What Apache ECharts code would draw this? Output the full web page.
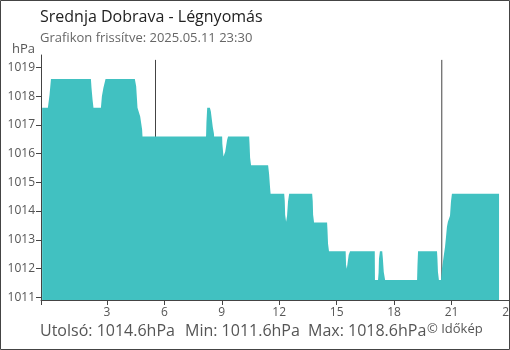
<!DOCTYPE html>
<html><head><meta charset="utf-8">
<script src="https://cdn.jsdelivr.net/npm/echarts@6/dist/echarts.min.js"></script>
<style>html,body{margin:0;padding:0;background:#fff}#c{width:510px;height:350px}</style>
</head><body><div id="c"></div>
<script>
// Hours of day (x) and pressure values (hPa)
var hours = [-0.38,-0.08,0.005,0.08,2.166,2.197,2.25,2.30,2.69,2.74,2.82,2.93,4.46,4.53,4.60,4.74,4.84,4.86,
  8.18,8.20,8.24,8.38,8.43,8.48,8.53,8.59,8.60,9.02,9.03,9.09,9.12,9.18,9.23,9.28,9.33,
  10.43,10.45,10.48,10.53,11.42,11.47,11.52,11.55,12.26,12.29,12.31,12.36,12.41,12.46,12.52,
  13.72,13.75,13.77,13.82,14.50,14.52,14.55,14.60,15.47,15.49,15.53,15.58,15.63,15.70,
  16.99,17.00,17.16,17.19,17.21,17.26,17.38,17.41,17.46,17.53,19.20,19.22,19.25,
  20.24,20.26,20.29,20.34,20.45,20.50,20.55,20.60,20.66,20.71,20.76,20.81,20.92,20.97,21.02,23.48];
var pressure = [1017.6,1017.6,1018.05,1018.6,1018.6,1018.3,1017.9,1017.6,1017.6,1018.0,1018.3,1018.6,1018.6,1018.35,1017.6,1017.3,1016.84,1016.6,
  1016.6,1017.1,1017.6,1017.6,1017.47,1017.2,1016.93,1016.7,1016.6,1016.6,1016.35,1015.9,1015.9,1016.07,1016.28,1016.49,1016.6,
  1016.6,1016.35,1015.86,1015.6,1015.6,1015.3,1014.84,1014.6,1014.6,1014.35,1013.87,1013.63,1013.84,1014.33,1014.6,
  1014.6,1014.35,1013.87,1013.6,1013.6,1013.35,1012.86,1012.6,1012.6,1012.13,1011.99,1012.23,1012.48,1012.6,
  1012.6,1011.6,1011.6,1011.85,1012.34,1012.6,1012.6,1012.37,1011.88,1011.6,1011.6,1012.1,1012.6,
  1012.6,1012.37,1011.88,1011.6,1011.6,1011.99,1012.23,1012.48,1012.76,1013.1,1013.45,1013.63,1013.84,1014.33,1014.6,1014.6];
var sunHours = [5.54, 20.49];
var yTicks = [1011,1012,1013,1014,1015,1016,1017,1018,1019];
var xTicks = [3,6,9,12,15,18,21,24];

var titleText = 'Srednja Dobrava - Légnyomás';
var subText = 'Grafikon frissítve: 2025.05.11 23:30';
var unitText = 'hPa';
var statTexts = ['Utolsó: 1014.6hPa', 'Min: 1011.6hPa', 'Max: 1018.6hPa'];
var creditText = '© Időkép';

var yMin = 1010.9, yMax = 1019.44, xMin = -0.44, xMax = 24;
var font = '"Open Sans", "Noto Sans", sans-serif';

var areaData = hours.map(function(h,i){ return [h, pressure[i]]; });
var series = [];
sunHours.forEach(function(h){
  series.push({type:'line', data:[[h,yMin],[h,1019.27]], symbol:'none', silent:true,
    lineStyle:{color:'#444', width:1}, z:1, animation:false});
});
series.push({type:'line', data:areaData, symbol:'none', silent:true,
  lineStyle:{width:0}, areaStyle:{color:'#41c1c1', opacity:1}, z:3, animation:false});

var chart = echarts.init(document.getElementById('c'), null, {renderer:'canvas'});
chart.setOption({
  animation:false,
  textStyle:{fontFamily:font},
  grid:{left:41, right:1, top:55, bottom:50, containLabel:false, outerBoundsMode:'none'},
  xAxis:{type:'value', min:xMin, max:xMax,
    axisLine:{onZero:false, lineStyle:{color:'#444', width:1}},
    axisTick:{show:true, length:5, lineStyle:{color:'#444'}, customValues:[xMin].concat(xTicks)},
    axisLabel:{color:'#555', fontSize:12, margin:7, fontFamily:font, customValues:xTicks,
      formatter:function(v){return String(v);}},
    splitLine:{show:false}},
  yAxis:{type:'value', min:yMin, max:yMax,
    axisLine:{show:true, onZero:false, lineStyle:{color:'#444', width:1}},
    axisTick:{show:true, length:5, lineStyle:{color:'#444'}, customValues:yTicks},
    axisLabel:{color:'#555', fontSize:12, margin:6, fontFamily:font, customValues:yTicks,
      formatter:function(v){return String(v);}},
    splitLine:{show:false}},
  series:series,
  graphic:[
    {type:'text', left:40, top:9, style:{text:titleText, font:'16px '+font, fill:'#222'}},
    {type:'text', left:40, top:32, style:{text:subText, font:'13px '+font, fill:'#666'}},
    {type:'text', left:12, top:43, style:{text:unitText, font:'13px '+font, fill:'#555'}},
    {type:'text', left:40, top:323, style:{text:statTexts[0], font:'16px '+font, fill:'#555'}},
    {type:'text', left:185, top:323, style:{text:statTexts[1], font:'16px '+font, fill:'#555'}},
    {type:'text', left:308, top:323, style:{text:statTexts[2], font:'16px '+font, fill:'#555'}},
    {type:'text', left:427, top:323, style:{text:creditText, font:'13px '+font, fill:'#555'}},
    {type:'rect', shape:{x:0.5, y:0.5, width:509, height:349}, style:{fill:'none', stroke:'#444', lineWidth:1}, z:100}
  ]
});
</script></body></html>
